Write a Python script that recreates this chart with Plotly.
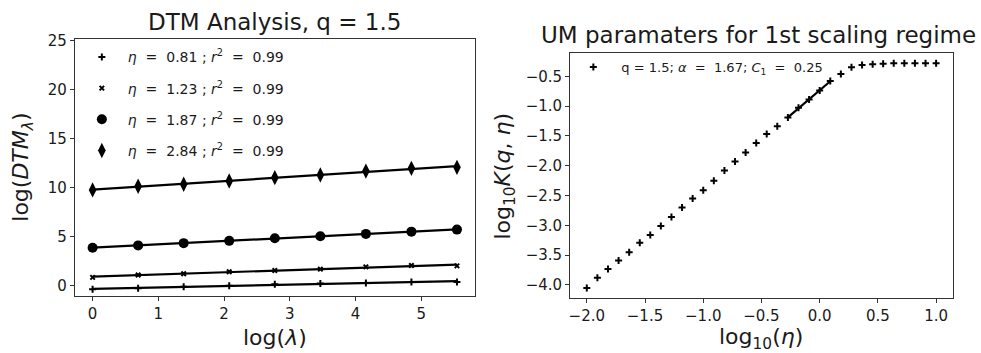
import numpy as np
import plotly.graph_objects as go

# ---------------- data ----------------
log_lambda = [0.0, 0.693, 1.386, 2.079, 2.773, 3.466, 4.159, 4.852, 5.545]
dtm_eta081 = [-0.34, -0.24, -0.10, 0.00, 0.16, 0.23, 0.30, 0.40, 0.40]
dtm_eta123 = [0.87, 1.11, 1.24, 1.44, 1.57, 1.71, 1.94, 2.07, 2.04]
dtm_eta187 = [3.89, 4.13, 4.36, 4.59, 4.86, 5.06, 5.30, 5.53, 5.74]
dtm_eta284 = [9.79, 10.16, 10.36, 10.70, 11.04, 11.31, 11.71, 11.99, 12.09]
S2 = "&nbsp;&nbsp;"
left_names = [f"<i>η</i>{S2}={S2}0.81 ; <i>r</i><sup>2</sup>{S2}={S2}0.99",
              f"<i>η</i>{S2}={S2}1.23 ; <i>r</i><sup>2</sup>{S2}={S2}0.99",
              f"<i>η</i>{S2}={S2}1.87 ; <i>r</i><sup>2</sup>{S2}={S2}0.99",
              f"<i>η</i>{S2}={S2}2.84 ; <i>r</i><sup>2</sup>{S2}={S2}0.99"]

log_eta = [-2.0, -1.909, -1.818, -1.727, -1.636, -1.545, -1.455, -1.364, -1.273,
           -1.182, -1.091, -1.0, -0.909, -0.818, -0.727, -0.636, -0.545, -0.455,
           -0.364, -0.273, -0.182, -0.091, 0.0, 0.091, 0.182, 0.273, 0.364,
           0.455, 0.545, 0.636, 0.727, 0.818, 0.909, 1.0]
log_K = [-4.05, -3.88, -3.73, -3.59, -3.45, -3.29, -3.16, -3.01, -2.86,
         -2.70, -2.55, -2.41, -2.25, -2.08, -1.93, -1.78, -1.62, -1.47,
         -1.34, -1.19, -1.03, -0.89, -0.74, -0.58, -0.46, -0.35, -0.31,
         -0.30, -0.29, -0.28, -0.28, -0.28, -0.28, -0.28]
fit_start, fit_end = 19, 23  # indices of the 1st scaling regime fit
right_name = f"q = 1.5; <i>α</i>{S2}={S2}1.67; <i>C</i><sub>1</sub>{S2}={S2}0.25"

# ---------------- figure ----------------
W, H = 981, 353
FONT = "DejaVu Sans"
TXT = "#1a1a1a"
fig = go.Figure()

series = [dtm_eta081, dtm_eta123, dtm_eta187, dtm_eta284]
symbols = [dict(symbol="cross-thin", size=5, line=dict(width=2, color="black")),
           dict(symbol="x-thin", size=4.5, line=dict(width=2, color="black")),
           dict(symbol="circle", size=10, line=dict(width=0)),
           dict(symbol="diamond-tall", size=11, line=dict(width=0))]

xl = np.array(log_lambda)
for i, (ys, mk) in enumerate(zip(series, symbols)):
    slope, icpt = np.polyfit(xl, np.array(ys), 1)
    fig.add_trace(go.Scatter(x=xl, y=slope * xl + icpt, mode="lines",
                             line=dict(color="black", width=2.2),
                             showlegend=False, xaxis="x", yaxis="y", hoverinfo="skip"))
    fig.add_trace(go.Scatter(x=log_lambda, y=ys, mode="markers", name=left_names[i],
                             marker=dict(color="black", **mk), legend="legend",
                             legendgroup=f"g{i}", xaxis="x", yaxis="y"))

xe = np.array(log_eta[fit_start:fit_end + 1])
ye = np.array(log_K[fit_start:fit_end + 1])
s2, c2 = np.polyfit(xe, ye, 1)
fig.add_trace(go.Scatter(x=log_eta, y=log_K, mode="markers", name=right_name,
                         marker=dict(symbol="cross-thin", size=5, color="black",
                                     line=dict(width=2, color="black")),
                         legend="legend2", xaxis="x2", yaxis="y2"))
fig.add_trace(go.Scatter(x=xe, y=s2 * xe + c2, mode="lines",
                         line=dict(color="black", width=2.2), showlegend=False,
                         xaxis="x2", yaxis="y2", hoverinfo="skip"))

def px_x(p):
    return p / W

def px_y(p):
    return 1 - p / H

axis_common = dict(showline=True, mirror=True, linecolor="#333", linewidth=1,
                   ticks="outside", ticklen=4, tickwidth=1, tickcolor="#333",
                   showgrid=False, zeroline=False,
                   tickfont=dict(family=FONT, size=15, color=TXT))

fig.update_layout(
    width=W, height=H, margin=dict(l=0, r=0, t=0, b=0),
    paper_bgcolor="white", plot_bgcolor="white",
    font=dict(family=FONT, color=TXT),
    xaxis=dict(domain=[px_x(73), px_x(474)], range=[-0.27, 5.82],
               tickvals=[0, 1, 2, 3, 4, 5], anchor="y", **axis_common),
    yaxis=dict(domain=[px_y(295), px_y(33)], range=[-1.05, 25.15],
               tickvals=[0, 5, 10, 15, 20, 25], anchor="x", **axis_common),
    xaxis2=dict(domain=[px_x(569.3), px_x(953.3)], range=[-2.143, 1.148],
                tickvals=[-2, -1.5, -1, -0.5, 0, 0.5, 1], tickformat=".1f",
                anchor="y2", **axis_common),
    yaxis2=dict(domain=[px_y(297), px_y(46.7)], range=[-4.22, -0.106],
                tickvals=[-4, -3.5, -3, -2.5, -2, -1.5, -1, -0.5], tickformat=".1f",
                anchor="x2", **axis_common),
    legend=dict(x=px_x(74), y=px_y(35), xanchor="left", yanchor="top",
                bgcolor="rgba(0,0,0,0)", borderwidth=0, tracegroupgap=10,
                itemwidth=42,
                font=dict(family=FONT, size=14, color=TXT)),
    legend2=dict(x=px_x(564.5), y=px_y(46), xanchor="left", yanchor="top",
                 bgcolor="rgba(0,0,0,0)", borderwidth=0, itemwidth=46,
                 font=dict(family=FONT, size=13, color=TXT)),
    showlegend=True,
)

annotations = [
    dict(text="DTM Analysis, q = 1.5", x=px_x(273.5), y=px_y(15), font=dict(size=23)),
    dict(text="UM paramaters for 1st scaling regime", x=px_x(758), y=px_y(29), font=dict(size=23)),
    dict(text="log(<i>λ</i>)", x=px_x(274), y=px_y(337), font=dict(size=22)),
    dict(text="log<sub>10</sub>(<i>η</i>)", x=px_x(761), y=px_y(338), font=dict(size=22)),
    dict(text="log(<i>DTM</i><sub><i>λ</i></sub>)", x=px_x(21), y=px_y(163),
         font=dict(size=22), textangle=-90),
    dict(text="log<sub>10</sub><i>K</i>(<i>q</i>, <i>η</i>)", x=px_x(504), y=px_y(172),
         font=dict(size=22), textangle=-90),
]
for a in annotations:
    a.update(xref="paper", yref="paper", showarrow=False, xanchor="center", yanchor="middle")
    a["font"].update(family=FONT, color=TXT)
fig.update_layout(annotations=annotations)

fig.write_html("out.html")
